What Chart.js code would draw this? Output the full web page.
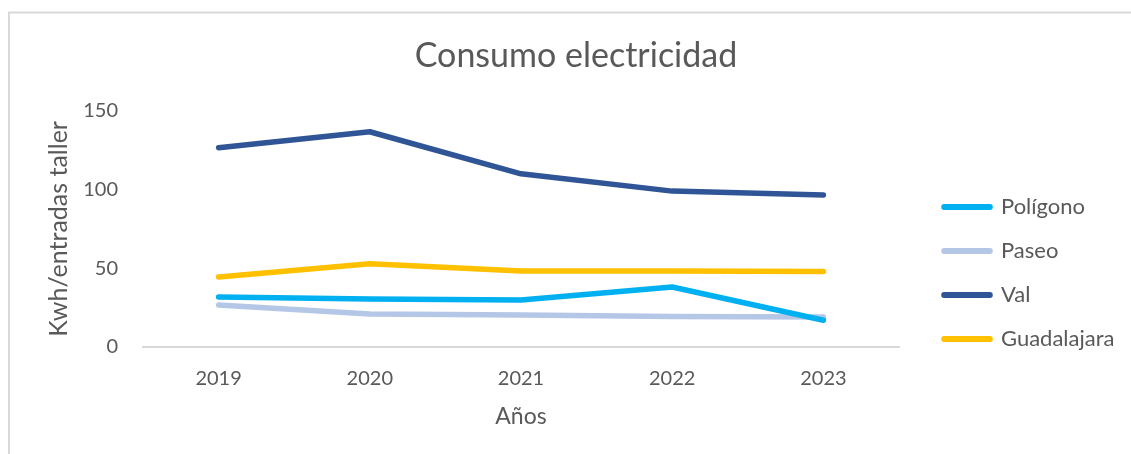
<!DOCTYPE html>
<html>
<head>
<meta charset="utf-8">
<script src="https://cdn.jsdelivr.net/npm/chart.js@4.4.1/dist/chart.umd.min.js"></script>
<style>
  html, body { margin: 0; padding: 0; background: #fff; }
  #wrap { position: relative; width: 1131px; height: 454px; }
</style>
</head>
<body>
<div id="wrap"><canvas id="myChart" width="1131" height="454"></canvas></div>
<script>
const years = ['2019', '2020', '2021', '2022', '2023'];
const poligono = [31.8, 30.5, 29.9, 38.1, 17];
const paseo = [26.7, 21, 20.3, 19.4, 19];
const val = [126.5, 136.7, 110, 99, 96.6];
const guadalajara = [44.5, 52.8, 48.3, 48.3, 48];
const yTicks = [0, 50, 100, 150];

const textColor = '#595959';
const font = 'Lato';

// light frame around the chart, like the office chart border
const frame = {
    id: 'frame',
    beforeDraw(chart) {
        const ctx = chart.ctx;
        ctx.save();
        ctx.fillStyle = '#fff';
        ctx.fillRect(0, 0, chart.width, chart.height);
        ctx.strokeStyle = '#d9d9d9';
        ctx.lineWidth = 2;
        ctx.beginPath();
        ctx.moveTo(9, chart.height);
        ctx.lineTo(9, 12.5);
        ctx.lineTo(chart.width, 12.5);
        ctx.stroke();
        ctx.restore();
    }
};

// keep the legend column narrow and place it beside the plot like the original
const legendSpot = {
    id: 'legendSpot',
    beforeLayout(chart) {
        const lg = chart.legend;
        if (!lg || lg._fixed) return;
        const fit = lg.fit;
        lg.fit = function () {
            fit.call(this);
            this.width = 232;
        };
        lg._fixed = true;
    },
    afterLayout(chart) {
        chart.legend.left += 23;
        chart.legend.top += 174;
    }
};

const makeSet = (label, data, color) => ({
    label: label,
    data: data,
    borderColor: color,
    backgroundColor: color,
    borderWidth: 5.5,
    borderCapStyle: 'round',
    borderJoinStyle: 'round',
    pointRadius: 0,
    pointHoverRadius: 0,
    tension: 0,
    fill: false
});

new Chart(document.getElementById('myChart').getContext('2d'), {
    type: 'line',
    data: {
        labels: years,
        datasets: [
            makeSet('Polígono', poligono, '#00B0F0'),
            makeSet('Paseo', paseo, '#B4C7E7'),
            makeSet('Val', val, '#2F5597'),
            makeSet('Guadalajara', guadalajara, '#FFC000')
        ]
    },
    options: {
        responsive: false,
        animation: false,
        layout: {
            padding: { left: 21, right: 0, top: 0, bottom: 12 }
        },
        plugins: {
            title: {
                display: true,
                text: 'Consumo electricidad',
                color: textColor,
                font: { family: font, size: 34, weight: 'normal' },
                padding: { top: 36, bottom: 34 }
            },
            legend: {
                position: 'right',
                align: 'start',
                labels: {
                    color: textColor,
                    font: { family: font, size: 22 },
                    boxWidth: 46,
                    boxHeight: 0.5,
                    padding: 22
                }
            },
            tooltip: { enabled: false }
        },
        scales: {
            x: {
                offset: true,
                grid: { display: false, drawTicks: false },
                border: { display: true, color: '#d9d9d9', width: 2 },
                ticks: {
                    color: textColor,
                    font: { family: font, size: 20 },
                    padding: 20
                },
                title: {
                    display: true,
                    text: 'Años',
                    color: textColor,
                    font: { family: font, size: 23 },
                    padding: { top: 0, bottom: 12 }
                },
                afterFit(scale) {
                    scale.height = 95;
                }
            },
            y: {
                min: 0,
                max: 150,
                afterBuildTicks(scale) {
                    scale.ticks = yTicks.map(v => ({ value: v }));
                },
                grid: { display: false, drawTicks: false },
                border: { display: false },
                ticks: {
                    color: textColor,
                    font: { family: font, size: 20 },
                    padding: 25
                },
                title: {
                    display: true,
                    text: 'Kwh/entradas taller',
                    color: textColor,
                    font: { family: font, size: 25 },
                    padding: { top: 23, bottom: 0 }
                },
                afterFit(scale) {
                    scale.width = 122;
                }
            }
        }
    },
    plugins: [frame, legendSpot]
});
</script>
</body>
</html>
